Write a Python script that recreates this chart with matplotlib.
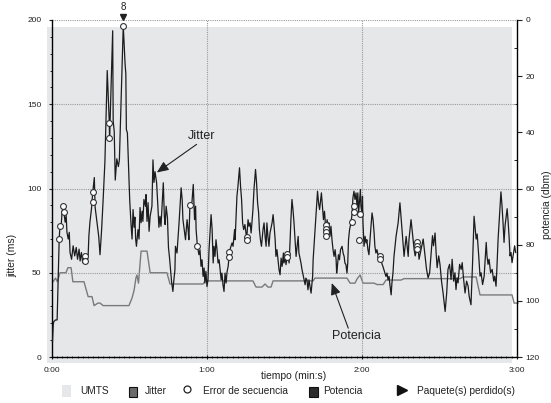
import matplotlib
matplotlib.use('Agg')
import matplotlib.pyplot as plt
from matplotlib.patches import Rectangle
from matplotlib.lines import Line2D
from matplotlib.ticker import MultipleLocator, FixedLocator, FuncFormatter
from matplotlib import font_manager

names = {f.name for f in font_manager.fontManager.ttflist}
if 'Liberation Sans Narrow' in names:
    FONT = ['Liberation Sans Narrow', 'DejaVu Sans']
    SCALE = 1.2
else:
    FONT = ['Liberation Sans', 'DejaVu Sans']
    SCALE = 1.0
plt.rcParams['font.family'] = FONT

# ---------------- data ----------------
jitter_t = [0.3, 0.6, 0.8, 1.5, 2.1, 2.5, 2.9, 3.2, 3.6, 4.0, 4.5, 4.7, 5.2, 5.6, 5.9, 6.4, 6.8, 7.1, 7.7, 8.3,
            8.9, 9.5, 10.0, 10.6, 11.0, 11.5, 12.0, 12.7, 13.3, 13.7, 14.1, 14.4, 14.8, 15.4, 15.9, 16.5, 16.8,
            17.4, 18.2, 18.7, 19.3, 19.9, 20.6,
            21.5, 22.3, 22.4, 23.6, 23.8, 24.2, 24.6, 25.2, 25.8, 26.2, 27.7, 28.4, 28.7, 28.9, 29.3, 30.2, 30.7,
            31.1, 31.5, 31.9, 32.2, 32.5, 32.8, 33.4, 33.8, 34.2, 34.6, 35.0, 35.3, 35.7, 36.3, 36.5, 36.9, 37.3,
            37.7, 38.1, 38.8, 39.2, 39.6, 40.0, 40.6, 41.1, 41.5, 41.9, 42.3, 43.2, 43.6, 43.9, 44.3, 44.8, 45.2,
            45.6, 46.0, 46.4, 46.9, 47.3, 47.7, 47.9, 48.5, 49.3, 50.1, 50.5, 50.8, 51.2, 51.8, 52.4, 52.8, 53.1,
            53.5, 54.3, 54.8, 55.3, 55.7, 55.9, 56.4, 57.0, 57.4, 57.8, 58.2, 58.6, 59.0, 59.3, 59.7, 60.1, 60.5,
            60.9, 61.7, 62.1, 62.5, 62.8, 63.2, 63.6, 64.0, 64.4, 64.8, 65.2, 65.6, 65.9, 66.3, 66.7, 67.1, 67.5,
            67.9, 68.3, 68.7, 69.0, 69.8, 70.2, 70.8, 71.0, 71.4, 71.7, 72.1, 72.7, 73.1, 73.5, 73.9, 74.3, 74.8,
            75.2, 75.5, 76.0, 76.4, 76.8, 77.2, 77.9, 78.3, 78.9, 79.3, 79.7, 80.1, 80.4, 80.8, 81.2, 81.8, 82.2,
            82.6, 83.0, 83.3, 83.7, 84.1, 84.5, 85.3, 85.7, 86.1, 86.5, 86.8, 87.2, 87.6, 88.0, 88.4, 88.8, 89.2,
            89.7, 89.9, 90.5, 90.7, 91.2, 91.5, 91.9, 92.3, 92.6, 93.0, 93.4, 93.8, 94.2, 94.6, 95.0, 95.4, 95.7,
            96.1, 96.5, 96.9, 97.3, 97.7, 98.1, 98.4, 98.8, 99.2, 99.6, 100.0, 100.4, 100.8, 101.0, 101.2, 101.7,
            102.1, 102.5, 102.9, 103.3, 103.7, 104.1, 104.4, 104.8, 105.2, 105.6, 106.2, 106.6, 107.0, 107.3,
            107.7, 108.1, 108.5, 108.9, 109.3, 109.7, 110.1, 110.3, 110.6, 111.0, 111.4, 111.8, 112.4, 112.8,
            113.2, 113.5, 113.9, 114.3, 114.6, 114.9, 115.3, 115.9, 116.3, 116.6, 117.0, 117.4, 117.8, 118.2,
            118.5, 118.8, 119.2, 119.5, 119.7, 120.1, 120.3, 120.5, 120.9, 121.3, 121.7, 122.0, 122.4, 122.8,
            123.2, 123.6, 124.0, 124.4, 124.8, 125.1, 125.5, 125.9, 126.3, 127.1, 127.5, 127.9, 128.2, 128.6,
            129.0, 129.4, 129.8, 130.2, 130.6, 131.0, 131.4, 131.7, 132.1, 132.5, 132.9, 133.3, 134.1, 134.5,
            134.8, 135.2, 135.6, 136.0, 136.4, 136.8, 137.2, 137.6, 138.0, 138.3, 138.7, 139.1, 139.5, 139.9,
            140.3, 140.7,
            141.3, 141.8, 142.2, 143.0, 143.8, 144.5, 145.1, 145.7, 146.3, 146.9, 147.4, 147.8, 148.4, 148.8,
            149.2, 149.8, 150.3, 150.9, 151.5, 152.3, 152.9, 153.4, 154.0, 154.6, 155.0, 155.6, 156.1, 156.5,
            156.9, 157.3, 157.9, 158.5, 158.9, 159.4, 160.0, 160.6, 161.2, 161.6, 162.3, 162.9, 163.5, 163.9,
            164.3, 164.7, 165.3, 165.8, 166.2, 166.8, 167.4, 168.2, 168.5, 168.9, 169.3, 169.9, 170.5, 171.1,
            171.5, 172.0, 172.4, 172.8, 173.4, 173.9, 174.3, 174.7, 175.1, 175.5, 176.3, 176.7, 177.1, 177.4,
            177.8, 178.2, 178.6, 179.2, 179.6]
jitter_ms = [9, 19, 21, 22, 22, 45, 70, 78, 76, 86, 89.5, 86, 80, 84, 74, 70, 74, 62, 58, 66,
             60, 65, 58, 64, 57, 62, 56, 60, 58, 56, 60, 72, 80, 88, 98, 106.5, 89,
             81.5, 71.6, 60.7, 75, 93, 116,
             170, 138.7, 129, 193.6, 140, 134, 105, 117.6, 113, 117, 196.6, 174, 168, 135, 133, 93, 79,
             70, 87.5, 77, 83, 70, 65.7, 75.6, 70, 88.7, 79.7, 86.5, 80.5, 93.5, 89.5, 96.4, 80.5, 91.6,
             74.6, 83.5, 89.5, 117, 103.6, 110, 103.6, 89.5, 77, 83.5, 77.6, 103.4, 83.5, 78.6, 89.5, 82.7, 65,
             59, 51.8, 44.8, 38.9, 45.8, 51.8, 65.7, 61.7, 79.6, 100.4, 93.5, 81.5, 76.8, 69.6, 81.5, 75.6, 69.6,
             90, 92, 102.4, 81.5, 89.5, 75.6, 65.7, 60.7, 63.7, 53.8, 57.7, 47.8, 52.8, 43.9, 50.8, 41.8, 45.8,
             63.7, 84.5, 75.6, 55.8, 65.7, 59.7, 69.6, 63.7, 55.8, 57.7, 51.8, 45.8, 49.8, 42.9, 38.9, 49.8, 43.9,
             50.8, 53.8, 60, 63.7, 67.7, 65.7, 75.6, 69.6, 83.5, 95.4, 101.4, 112.3, 101.4, 93.5, 79.6, 75.6, 78.6,
             73.6, 70.5, 81.5, 77.6, 79.6, 73.6, 87.5, 99.4, 111.3, 103.4, 91.5, 85.5, 75.6, 69.6, 65.7, 75.6, 79.6,
             71.6, 65.7, 79.6, 71.6, 65.7, 73.6, 79.6, 84.5, 77.6, 69.6, 59.7, 63.7, 57.7, 51.8, 48.8, 58.7, 53.8,
             61.7, 55.8, 58.7, 54.8, 60, 59.7, 55.8, 69.6, 81.5, 93.5, 87.5, 79.6, 69.6, 59.7, 65.7, 71.6, 61.7,
             58.7, 55.8, 51.8, 48.8, 45.8, 42.9, 46.8, 45.8, 39.9, 45.8, 41.8, 37.9, 45, 47.8, 57.7, 69.6,
             79.6, 89.5, 98.4, 91.5, 87.5, 93.5, 97.4, 89.5, 81.5, 86.5, 73.6, 81.5, 77.6, 79.6,
             71.6, 77.6, 69.6, 63.7, 59.7, 63.7, 57.7, 49.8, 53.8, 60.7, 57.7, 63.7, 65.7, 61.7,
             59.7, 55.8, 54.8, 49.8, 55.8, 69.6, 75.6, 80, 85.5, 94.4, 98.4, 93.5, 97.4, 89.5,
             97.4, 85.5, 93.5, 99.4, 89.5, 85.5, 95.4, 79.6, 65.7, 71.6, 67.7, 69.6, 63.7, 60.7,
             69.6, 77.6, 85.5, 81.5, 73.6, 65.7, 61.7, 63.7, 60.7, 61, 57.7, 55, 53.8, 51.8,
             49.8, 47.8, 49.8, 45.8, 47.8, 41.8, 36.9, 43.9, 49.8, 59.7, 65.7, 71.6, 79.6, 86.5,
             91.5, 83.5, 75.6, 67.7, 59.7, 65.7, 71.6, 65.7, 59.7, 69.6, 75.6, 81.5, 75.6, 69.6,
             63.7, 60,
             64, 66, 58, 64, 70, 60, 52, 47, 50, 62, 72, 66, 73.6, 62,
             53, 60, 55, 45, 38, 27, 38, 52, 55, 46, 58, 45, 50, 40,
             47, 44, 55, 52, 56, 47, 38, 45, 42, 36, 31, 55, 83.5, 77,
             70, 73, 60, 48, 50, 43, 48, 68, 60, 55, 58, 50, 52, 45,
             48, 42, 55, 70, 85, 98, 90, 80, 68, 78, 88, 80, 70, 60,
             62, 56, 60, 66, 62]

potencia_t = [0.5, 1.5, 2.2, 3.2, 5.5, 6.3, 7.5, 8.2, 12.5, 14.1, 15.6, 16.4, 17.9, 18.7, 19.9, 29.9,
              31.1, 31.9, 32.6, 33.0, 33.6, 34.6, 36.9, 38.1, 44.6, 45.8, 58.6, 59.4, 77.9, 79.1, 81.4,
              82.6, 83.7, 84.9, 85.7, 101.2, 101.9, 114.3, 115.5, 117.4, 118.2, 119.4, 120.5, 124.8,
              125.9, 128.3, 129.4, 135.2, 136.4, 158.1, 159.2, 164.3, 165.8, 178.2, 179.0, 180.5]
potencia_dbm = [93.2, 91.9, 93.2, 90.0, 90.0, 88.2, 88.2, 93.2, 93.2, 98.5, 98.5, 101.7, 100.8, 100.8,
                101.7, 101.7, 99.0, 96.2, 91.9, 90.8, 93.7, 82.3, 82.3, 90.0, 90.0, 94.0, 94.0, 92.9,
                92.9, 95.1, 95.1, 94.0, 95.1, 95.1, 92.9, 92.9, 91.9, 91.9, 93.7, 93.7, 92.2, 90.8,
                93.7, 93.7, 94.2, 94.2, 92.6, 92.6, 92.1, 92.1, 91.5, 91.5, 97.9, 97.9, 100.8, 100.8]

error_t = [2.9, 3.2, 4.5, 4.6, 12.7, 12.7, 15.9, 15.9, 22.3, 22.3, 27.7, 53.5, 56.4, 68.7, 68.7,
           75.5, 75.5, 91.2, 91.2, 106.2, 106.2, 106.2, 106.2, 116.1, 117.2, 117.2, 119.1, 119.4,
           127.2, 127.2, 141.3, 141.3, 141.3]
error_ms = [70, 78, 89.5, 86, 60, 57, 98, 92, 138.7, 130, 196.6, 90, 65.7, 62.5, 59.5,
            71, 69.2, 61.3, 59.1, 78.6, 76.2, 74, 71.6, 80.2, 89.5, 86.1, 69.2, 85.1,
            60.1, 58.1, 68, 65.7, 64.3]

lost_t = [27.7]
lost_count = ['8']

umts_span = (-1.8, 178.2)

legend_labels = ['UMTS', 'Jitter', 'Error de secuencia', 'Potencia', 'Paquete(s) perdido(s)']

# ---------------- figure ----------------
W, H = 551, 403
fig = plt.figure(figsize=(W / 100, H / 100), dpi=100)
fig.patch.set_facecolor('white')

def fx(px):
    return px / W

def fy(py):
    return 1 - py / H

ax_l, ax_r, ax_t, ax_b = 51.7, 516.7, 20.0, 357.0
ax = fig.add_axes([fx(ax_l), fy(ax_b), (ax_r - ax_l) / W, (ax_b - ax_t) / H])
ax2 = ax.twinx()
ax.set_zorder(ax2.get_zorder() + 1)
ax.patch.set_visible(False)

ax.set_xlim(0, 180)
ax.set_ylim(0, 200)
ax2.set_ylim(120, 0)

UMTS_C = '#e6e7e9'
# UMTS shading (drawn in the lower axes, jitter coordinates)
ax2.add_patch(Rectangle((umts_span[0], -3.6), umts_span[1] - umts_span[0], 199.6,
                        transform=ax.transData, facecolor=UMTS_C, edgecolor='none',
                        zorder=0, clip_on=False))

ax2.plot(potencia_t, potencia_dbm, color='#7a7a7a', lw=1.0, zorder=2, clip_on=False)

ax.plot(jitter_t, jitter_ms, color='#1c1c1c', lw=0.9, zorder=3, clip_on=False)
ax.plot(error_t, error_ms, linestyle='none', marker='o', ms=4.2, mfc='white', mec='#333333',
        mew=0.8, zorder=4, clip_on=False)
ax.plot(lost_t, [201.5] * len(lost_t), linestyle='none', marker='v', ms=4, color='#222222',
        zorder=5, clip_on=False)
for t, c in zip(lost_t, lost_count):
    ax.text(t, 208, c, ha='center', va='center', fontsize=7 * SCALE, color='#222222')

# grid
grid_kw = dict(color='#9a9a9a', lw=0.8, linestyle=(0, (1, 1)), zorder=1)
for yv in (50, 100, 150, 200):
    ax.axhline(yv, **grid_kw)
for xv in (60, 120):
    ax.axvline(xv, **grid_kw)

# spines
for s in ('top', 'right'):
    ax.spines[s].set_visible(False)
for s in ('top', 'left', 'bottom'):
    ax2.spines[s].set_visible(False)
ax.spines['left'].set_linewidth(1.0)
ax.spines['bottom'].set_linewidth(1.0)
ax2.spines['right'].set_linewidth(1.0)

# ticks
ax.yaxis.set_major_locator(MultipleLocator(50))
ax.yaxis.set_minor_locator(MultipleLocator(10))
ax.xaxis.set_major_locator(FixedLocator([0, 60, 120, 180]))
ax.xaxis.set_minor_locator(MultipleLocator(2))
ax.xaxis.set_major_formatter(FuncFormatter(lambda v, p: f"{int(v) // 60}:{int(v) % 60:02d}"))
ax.tick_params(axis='y', which='major', direction='out', length=2.5, width=0.8, pad=5,
               labelsize=6 * SCALE, colors='#222222')
ax.tick_params(axis='y', which='minor', direction='out', length=1.5, width=0.6)
ax.tick_params(axis='x', which='major', direction='inout', length=3, width=0.8, pad=6,
               labelsize=6 * SCALE, colors='#222222')
ax.tick_params(axis='x', which='minor', direction='inout', length=2, width=0.5)

ax2.yaxis.set_major_locator(MultipleLocator(20))
ax2.yaxis.set_minor_locator(MultipleLocator(10))
ax2.tick_params(axis='y', which='major', direction='out', length=3.5, width=0.8, pad=3,
                labelsize=6 * SCALE, colors='#222222')
ax2.tick_params(axis='y', which='minor', direction='in', length=2, width=0.6)

# axis labels
fig.text(fx(294), fy(376), 'tiempo (min:s)', ha='center', va='center', fontsize=7.4 * SCALE,
         color='#222222')
fig.text(fx(12), fy(255), 'jitter (ms)', ha='center', va='center', rotation=90,
         fontsize=7.4 * SCALE, color='#222222')
fig.text(fx(547), fy(205), 'potencia (dbm)', ha='center', va='center', rotation=90,
         fontsize=7.4 * SCALE, color='#222222')

# annotations
arrow_kw = dict(arrowstyle='-|>,head_length=0.7,head_width=0.3', color='#222222', lw=0.8,
                shrinkA=0, shrinkB=0)
ax.annotate('', xy=(40.7, 109.5), xytext=(56.1, 126.2), arrowprops=arrow_kw, zorder=6)
ax.text(58.2, 131, 'Jitter', ha='center', va='center', fontsize=9 * SCALE, color='#222222')
ax.annotate('', xy=(108.4, 43.9), xytext=(114.8, 17.1), arrowprops=arrow_kw, zorder=6)
ax.text(117.8, 12.5, 'Potencia', ha='center', va='center', fontsize=9 * SCALE, color='#222222')

# legend (manual)
ly = 391.5
lfs = 7.3 * SCALE
fig.add_artist(Rectangle((fx(62), fy(397)), 9 / W, 12 / H, transform=fig.transFigure,
                         facecolor=UMTS_C, edgecolor='none'))
fig.text(fx(80.7), fy(ly), legend_labels[0], ha='left', va='center', fontsize=lfs, color='#222222')
fig.add_artist(Rectangle((fx(128.5), fy(396.5)), 8 / W, 10 / H, transform=fig.transFigure,
                         facecolor='#6a6a6a', edgecolor='#111111', lw=0.8))
fig.text(fx(145.3), fy(ly), legend_labels[1], ha='left', va='center', fontsize=lfs, color='#222222')
fig.add_artist(Line2D([fx(187)], [fy(389)], transform=fig.transFigure, marker='o', ms=5,
                      mfc='white', mec='#222222', mew=0.9, linestyle='none'))
fig.text(fx(202.7), fy(ly), legend_labels[2], ha='left', va='center', fontsize=lfs, color='#222222')
fig.add_artist(Rectangle((fx(309), fy(396.5)), 9 / W, 10 / H, transform=fig.transFigure,
                         facecolor='#2b2b2b', edgecolor='#111111', lw=0.8))
fig.text(fx(323), fy(ly), legend_labels[3], ha='left', va='center', fontsize=lfs, color='#222222')
fig.add_artist(Line2D([fx(402)], [fy(390)], transform=fig.transFigure, marker='>', ms=7,
                      color='#111111', linestyle='none'))
fig.text(fx(416.7), fy(ly), legend_labels[4], ha='left', va='center', fontsize=lfs, color='#222222')

fig.savefig('out.png', dpi=100, facecolor='white')
